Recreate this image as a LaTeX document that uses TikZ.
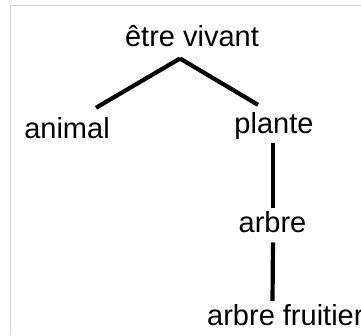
\documentclass[tikz,border=0pt]{standalone}
\usepackage{fontspec}
\setmainfont{Liberation Sans}
\usetikzlibrary{positioning}
\definecolor{F}{RGB}{210,210,210}
\tikzstyle{word} = [inner sep=0pt, anchor=base, font=\fontsize{29}{34}\selectfont]
\tikzstyle{branch} = [line width=4.2pt, black]

\begin{document}
\begin{tikzpicture}[x=1pt, y=-1pt]
      \useasboundingbox (0,0) rectangle (361,335);
      \draw[F, line width=1pt] (10.5,335) -- (10.5,5.5) -- (361,5.5);

      \node[word] (etre)     at (192,46)  {être vivant};
      \node[word] (animal)   at (67,138)  {animal};
      \node[word] (plante)   at (274,133) {plante};
      \node[word] (arbre)    at (272.5,232) {arbre};
      \node[word, anchor=base west] (fruitier) at (207,325) {arbre fruitier};

      \draw[branch] ([xshift=-12pt, yshift=-12pt]etre.south) -- ([xshift=29pt, yshift=9pt]animal.north);
      \draw[branch] ([xshift=-12pt, yshift=-12pt]etre.south) -- ([xshift=-16pt, yshift=7pt]plante.north);
      \draw[branch] ([xshift=-1pt, yshift=-4pt]plante.south) -- ([xshift=0.5pt, yshift=3pt]arbre.north);
      \draw[branch] ([xshift=0.5pt, yshift=-10pt]arbre.south) -- ([yshift=3pt]arbre.south |- fruitier.north);
\end{tikzpicture}
\end{document}
